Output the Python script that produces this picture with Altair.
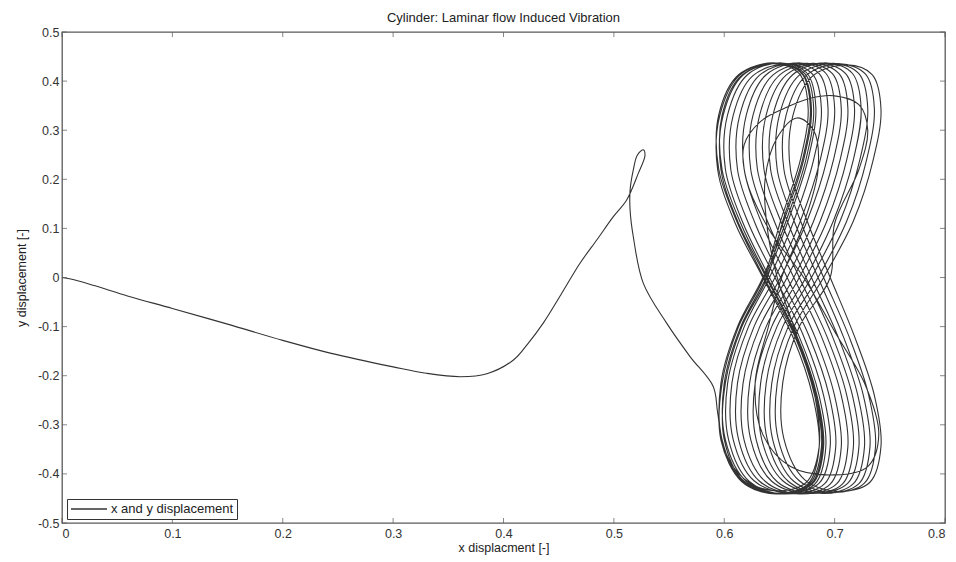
import altair as alt
import pandas as pd

# Path of the cylinder centre: drift from rest, then the settled figure-eight orbits.
approach_x = [0.000, 0.010, 0.030, 0.060, 0.100, 0.150, 0.200, 0.243, 0.300, 0.330, 0.361,
              0.385, 0.409, 0.422, 0.436, 0.452, 0.4693, 0.485, 0.4995, 0.5116, 0.5221, 0.5282,
              0.5266, 0.5212, 0.5176, 0.5147, 0.5147, 0.5176, 0.5267, 0.5478, 0.569, 0.590]
approach_y = [0.000, -0.004, -0.017, -0.038, -0.063, -0.095, -0.128, -0.154, -0.182, -0.195, -0.202,
              -0.196, -0.168, -0.135, -0.093, -0.035, 0.029, 0.078, 0.124, 0.158, 0.212, 0.249,
              0.260, 0.249, 0.219, 0.178, 0.137, 0.083, -0.012, -0.093, -0.161, -0.222]

orbit1_x = [0.594, 0.600, 0.618, 0.645, 0.674, 0.686, 0.682, 0.666, 0.648, 0.639, 0.637, 0.648,
            0.666, 0.681, 0.685, 0.672, 0.652]
orbit1_y = [-0.275, -0.350, -0.410, -0.434, -0.418, -0.345, -0.240, -0.120, 0.000, 0.100, 0.200, 0.285,
            0.325, 0.300, 0.220, 0.110, 0.000]

orbit2_x = [0.640, 0.628, 0.635, 0.660, 0.700, 0.730, 0.740, 0.728, 0.700, 0.672, 0.640,
            0.620, 0.618, 0.633, 0.655, 0.678, 0.700, 0.722, 0.730, 0.722, 0.700]
orbit2_y = [-0.100, -0.215, -0.320, -0.385, -0.402, -0.385, -0.320, -0.220, -0.110, 0.000, 0.100,
            0.200, 0.270, 0.318, 0.345, 0.365, 0.370, 0.352, 0.300, 0.220, 0.110]

orbit3_x = [0.696, 0.668, 0.653, 0.654, 0.673, 0.704, 0.732, 0.742, 0.736, 0.718,
            0.696, 0.676, 0.660, 0.662, 0.680, 0.711, 0.734, 0.742, 0.735, 0.717]
orbit3_y = [0.000, -0.100, -0.214, -0.328, -0.412, -0.436, -0.417, -0.344, -0.240, -0.120,
            0.000, 0.110, 0.219, 0.328, 0.410, 0.433, 0.413, 0.343, 0.240, 0.115]

orbit4_x = [0.690, 0.663, 0.648, 0.649, 0.668, 0.699, 0.727, 0.737, 0.731, 0.713,
            0.690, 0.670, 0.654, 0.656, 0.674, 0.705, 0.728, 0.736, 0.729, 0.711]
orbit4_y = [0.000, -0.101, -0.215, -0.330, -0.414, -0.438, -0.419, -0.346, -0.241, -0.120,
            0.000, 0.110, 0.221, 0.330, 0.411, 0.435, 0.414, 0.344, 0.240, 0.115]

orbit5_x = [0.685, 0.658, 0.643, 0.644, 0.663, 0.694, 0.722, 0.732, 0.726, 0.708,
            0.685, 0.664, 0.648, 0.650, 0.668, 0.699, 0.722, 0.730, 0.723, 0.705]
orbit5_y = [0.000, -0.100, -0.216, -0.331, -0.415, -0.439, -0.420, -0.345, -0.240, -0.121,
            0.000, 0.111, 0.220, 0.331, 0.412, 0.436, 0.415, 0.345, 0.241, 0.115]

orbit6_x = [0.679, 0.653, 0.638, 0.639, 0.658, 0.689, 0.717, 0.727, 0.721, 0.703,
            0.679, 0.658, 0.642, 0.644, 0.662, 0.693, 0.716, 0.724, 0.717, 0.699]
orbit6_y = [0.000, -0.100, -0.215, -0.330, -0.415, -0.440, -0.420, -0.346, -0.240, -0.120,
            0.000, 0.110, 0.220, 0.330, 0.413, 0.437, 0.416, 0.345, 0.240, 0.116]

orbit7_x = [0.674, 0.648, 0.633, 0.634, 0.653, 0.684, 0.712, 0.722, 0.716, 0.698,
            0.674, 0.652, 0.636, 0.638, 0.656, 0.687, 0.710, 0.718, 0.711, 0.693]
orbit7_y = [0.000, -0.099, -0.214, -0.330, -0.414, -0.439, -0.419, -0.345, -0.239, -0.120,
            0.000, 0.110, 0.220, 0.331, 0.412, 0.436, 0.415, 0.346, 0.240, 0.115]

orbit8_x = [0.668, 0.643, 0.628, 0.629, 0.648, 0.679, 0.707, 0.717, 0.711, 0.693,
            0.668, 0.646, 0.630, 0.632, 0.650, 0.681, 0.704, 0.712, 0.705, 0.687]
orbit8_y = [0.000, -0.100, -0.215, -0.331, -0.416, -0.440, -0.421, -0.345, -0.240, -0.120,
            0.000, 0.111, 0.221, 0.330, 0.412, 0.436, 0.415, 0.345, 0.240, 0.115]

orbit9_x = [0.663, 0.638, 0.623, 0.624, 0.643, 0.674, 0.702, 0.712, 0.706, 0.688,
            0.663, 0.640, 0.624, 0.626, 0.644, 0.675, 0.698, 0.706, 0.699, 0.681]
orbit9_y = [0.000, -0.100, -0.215, -0.330, -0.415, -0.440, -0.420, -0.345, -0.240, -0.120,
            0.000, 0.110, 0.220, 0.330, 0.412, 0.436, 0.415, 0.345, 0.240, 0.115]

orbit10_x = [0.657, 0.632, 0.617, 0.618, 0.637, 0.668, 0.696, 0.706, 0.700, 0.682,
             0.657, 0.634, 0.618, 0.620, 0.638, 0.669, 0.692, 0.700, 0.693, 0.675]
orbit10_y = [0.000, -0.101, -0.216, -0.331, -0.415, -0.441, -0.421, -0.346, -0.241, -0.120,
             0.000, 0.110, 0.221, 0.331, 0.413, 0.437, 0.416, 0.345, 0.240, 0.115]

orbit11_x = [0.651, 0.627, 0.612, 0.613, 0.632, 0.663, 0.691, 0.701, 0.695, 0.677,
             0.651, 0.628, 0.612, 0.614, 0.632, 0.663, 0.686, 0.694, 0.687, 0.669]
orbit11_y = [0.000, -0.100, -0.215, -0.330, -0.415, -0.440, -0.420, -0.345, -0.240, -0.120,
             0.000, 0.110, 0.220, 0.330, 0.412, 0.436, 0.415, 0.345, 0.240, 0.115]

orbit12_x = [0.646, 0.622, 0.607, 0.608, 0.627, 0.658, 0.686, 0.696, 0.690, 0.672,
             0.646, 0.622, 0.606, 0.608, 0.626, 0.657, 0.680, 0.688, 0.681, 0.663]
orbit12_y = [0.000, -0.100, -0.214, -0.329, -0.414, -0.439, -0.419, -0.344, -0.240, -0.120,
             0.000, 0.110, 0.219, 0.329, 0.411, 0.435, 0.414, 0.344, 0.240, 0.115]

orbit13_x = [0.641, 0.618, 0.603, 0.604, 0.623, 0.654, 0.682, 0.692, 0.686, 0.668,
             0.641, 0.617, 0.601, 0.603, 0.621, 0.652, 0.675, 0.683, 0.676, 0.658]
orbit13_y = [0.000, -0.101, -0.216, -0.331, -0.416, -0.441, -0.421, -0.346, -0.241, -0.121,
             0.000, 0.111, 0.221, 0.331, 0.413, 0.437, 0.416, 0.346, 0.241, 0.116]

orbit14_x = [0.638, 0.615, 0.600, 0.601, 0.620, 0.651, 0.679, 0.689, 0.683, 0.665,
             0.638, 0.613, 0.597, 0.599, 0.617, 0.648, 0.671, 0.679, 0.672, 0.654]
orbit14_y = [0.000, -0.100, -0.215, -0.330, -0.415, -0.440, -0.420, -0.345, -0.240, -0.120,
             0.000, 0.110, 0.220, 0.330, 0.412, 0.436, 0.415, 0.345, 0.240, 0.115]

orbit15_x = [0.635, 0.612, 0.597, 0.598, 0.617, 0.648, 0.676, 0.686, 0.680, 0.662,
             0.635, 0.610, 0.594, 0.596, 0.614, 0.645, 0.668, 0.676, 0.669, 0.651]
orbit15_y = [0.000, -0.100, -0.215, -0.330, -0.415, -0.440, -0.420, -0.345, -0.240, -0.120,
             0.000, 0.110, 0.220, 0.330, 0.412, 0.436, 0.415, 0.345, 0.240, 0.115]

orbit16_x = [0.636, 0.613, 0.598, 0.597, 0.616, 0.647, 0.677, 0.688, 0.682, 0.664,
             0.636, 0.612, 0.595, 0.595, 0.613, 0.646, 0.670, 0.678, 0.671, 0.653]
orbit16_y = [0.000, -0.100, -0.216, -0.331, -0.416, -0.441, -0.421, -0.346, -0.241, -0.120,
             0.000, 0.111, 0.221, 0.331, 0.413, 0.437, 0.416, 0.346, 0.241, 0.115]

orbit17_x = [0.639, 0.616, 0.601, 0.600, 0.618, 0.650, 0.680, 0.690, 0.684, 0.666,
             0.639, 0.615, 0.598, 0.598, 0.616, 0.649, 0.673, 0.681, 0.674, 0.656, 0.637]
orbit17_y = [0.000, -0.100, -0.215, -0.330, -0.415, -0.440, -0.420, -0.345, -0.240, -0.120,
             0.000, 0.110, 0.220, 0.330, 0.412, 0.436, 0.415, 0.345, 0.240, 0.115, 0.000]

x_ticks = [0.0, 0.1, 0.2, 0.3, 0.4, 0.5, 0.6, 0.7, 0.8]
y_ticks = [-0.5, -0.4, -0.3, -0.2, -0.1, 0.0, 0.1, 0.2, 0.3, 0.4, 0.5]

xs = (approach_x + orbit1_x + orbit2_x + orbit3_x + orbit4_x + orbit5_x + orbit6_x
      + orbit7_x + orbit8_x + orbit9_x + orbit10_x + orbit11_x + orbit12_x + orbit13_x
      + orbit14_x + orbit15_x + orbit16_x + orbit17_x)
ys = (approach_y + orbit1_y + orbit2_y + orbit3_y + orbit4_y + orbit5_y + orbit6_y
      + orbit7_y + orbit8_y + orbit9_y + orbit10_y + orbit11_y + orbit12_y + orbit13_y
      + orbit14_y + orbit15_y + orbit16_y + orbit17_y)

path = pd.DataFrame({"x": xs, "y": ys, "step": list(range(len(xs))),
                     "series": ["x and y displacement"] * len(xs)})

W, H = 883, 491
FONT = "Liberation Sans"
x_scale = alt.Scale(domain=[0, 0.8], nice=False, zero=False)
y_scale = alt.Scale(domain=[-0.5, 0.5], nice=False, zero=False)
label_expr = "replace(format(datum.value, '.1~f'), '\u2212', '-')"

# Same axis objects in every layer so the merged axes keep labels and titles.
x_axis = alt.Axis(values=x_ticks, labelExpr=label_expr, title="x displacment [-]",
                  labelPadding=4, titlePadding=2)
y_axis = alt.Axis(values=y_ticks, labelExpr=label_expr, title="y displacement [-]",
                  labelPadding=3, titlePadding=9)

line = alt.Chart(path).mark_line(interpolate="catmull-rom", strokeWidth=1.1).encode(
    x=alt.X("x:Q", scale=x_scale, axis=x_axis),
    y=alt.Y("y:Q", scale=y_scale, axis=y_axis),
    order="step:Q",
    color=alt.Color("series:N", scale=alt.Scale(range=["#333333"]),
                    legend=alt.Legend(title=None, orient="none", legendX=5, legendY=H - 24,
                                      symbolType="stroke", symbolSize=1296,
                                      symbolStrokeWidth=1.5, clipHeight=14,
                                      strokeColor="#333", fillColor="white",
                                      padding=3, labelOffset=3, labelFontSize=13,
                                      labelColor="#222", labelFont=FONT)),
)

xt = pd.DataFrame({"x": x_ticks})
yt = pd.DataFrame({"y": y_ticks})
tick_style = dict(size=5, thickness=1, color="#555")

ticks_bottom = alt.Chart(xt).mark_tick(**tick_style).encode(
    x=alt.X("x:Q", scale=x_scale, axis=x_axis), y=alt.value(H - 2.5))
ticks_top = alt.Chart(xt).mark_tick(**tick_style).encode(
    x=alt.X("x:Q", scale=x_scale, axis=x_axis), y=alt.value(2.5))
ticks_left = alt.Chart(yt).mark_tick(**tick_style).encode(
    y=alt.Y("y:Q", scale=y_scale, axis=y_axis), x=alt.value(2.5))
ticks_right = alt.Chart(yt).mark_tick(**tick_style).encode(
    y=alt.Y("y:Q", scale=y_scale, axis=y_axis), x=alt.value(W - 2.5))

chart = alt.layer(line, ticks_bottom, ticks_top, ticks_left, ticks_right).properties(
    width=W, height=H,
    title=alt.TitleParams("Cylinder: Laminar flow Induced Vibration", fontSize=13,
                          fontWeight="normal", font=FONT, color="#222", offset=1),
    padding={"left": 62, "top": 32, "right": 11, "bottom": 39},
    autosize=alt.AutoSizeParams(type="none"),
).configure_view(
    stroke="#5a5a5a", strokeWidth=1.3
).configure_axis(
    domain=False, ticks=False, grid=False,
    labelFont=FONT, labelFontSize=12.5, labelColor="#333",
    titleFont=FONT, titleFontSize=12.5, titleFontWeight="normal", titleColor="#222",
)

chart.save("out.html", embed_options={"renderer": "svg", "actions": False})
